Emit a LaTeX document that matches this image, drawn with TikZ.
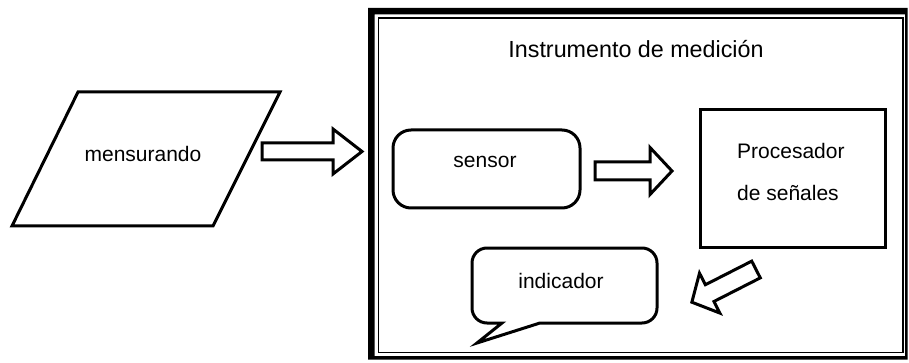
\documentclass[tikz,border=0pt]{standalone}
\usepackage{fontspec}
\setmainfont{Liberation Sans}
\tikzset{
  shape line/.style={draw=black, line width=3pt, fill=white, line join=miter},
  label text/.style={font=\fontsize{21}{42}\selectfont, inner sep=0pt},
  % block arrow: length / shaft half-width / head half-width / head length
  pics/blockarrow/.style args={#1/#2/#3/#4}{code={
    \draw[shape line] (0,#2) -- ({#1-#4},#2) -- ({#1-#4},#3) -- (#1,0)
      -- ({#1-#4},-#3) -- ({#1-#4},-#2) -- (0,-#2) -- cycle;}}
}
\begin{document}
\begin{tikzpicture}[x=1pt,y=-1pt]
  \useasboundingbox[fill=white] (0,0) rectangle (909,363);

  % instrument frame: thick outer band, thin inner line
  \fill[black, even odd rule] (368,8) rectangle (907.5,359.5)
                              (374.5,14.5) rectangle (905,356);
  \draw[line width=1.6pt] (378.3,18.3) rectangle (902.7,352.5);
  \node[font=\fontsize{23.3}{28}\selectfont, inner sep=0pt, anchor=base]
    (title) at (636,57.5) {Instrumento de medición};

  % measurand (parallelogram)
  \coordinate (m1) at (12,226);
  \coordinate (m2) at (213,226);
  \coordinate (m3) at (280,92);
  \coordinate (m4) at (78,92);
  \draw[shape line] (m1) -- (m2) -- (m3) -- (m4) -- cycle;
  \node[label text, anchor=base] (mens) at (143,161.5) {mensurando};

  % sensor
  \node[shape line, rounded corners=18pt, minimum width=187pt,
        minimum height=78pt, inner sep=0pt] (sensorbox) at (486.5,169) {};
  \node[label text, anchor=base] (sensor) at (485,168) {sensor};

  % signal processor
  \node[shape line, minimum width=185pt, minimum height=137pt,
        inner sep=0pt] (procbox) at (792.5,178.5) {};
  \node[label text, align=left, anchor=north west] (proc) at (737,142.7)
    {Procesador\\de señales};

  % indicator (speech callout)
  \draw[shape line] (540,323) -- (477,343) -- (502,323) -- (495,323)
    [rounded corners=15pt] -- (472,323) -- (472,248) -- (657,248)
    -- (657,323) -- (600,323) [sharp corners] -- cycle;
  \node[label text, anchor=base] (ind) at (561,288) {indicador};

  % block arrows between the stages
  \coordinate (a1) at (262,151.5);
  \coordinate (a2) at (595,171);
  \coordinate (a3) at (756,269.5);
  \pic (arr1) at (a1) {blockarrow=100/8.5/22.5/29};
  \pic (arr2) at (a2) {blockarrow=77/9/23.5/22};
  \pic[rotate=207] (arr3) at (a3) {blockarrow=72/9.4/22.4/20};
\end{tikzpicture}
\end{document}
